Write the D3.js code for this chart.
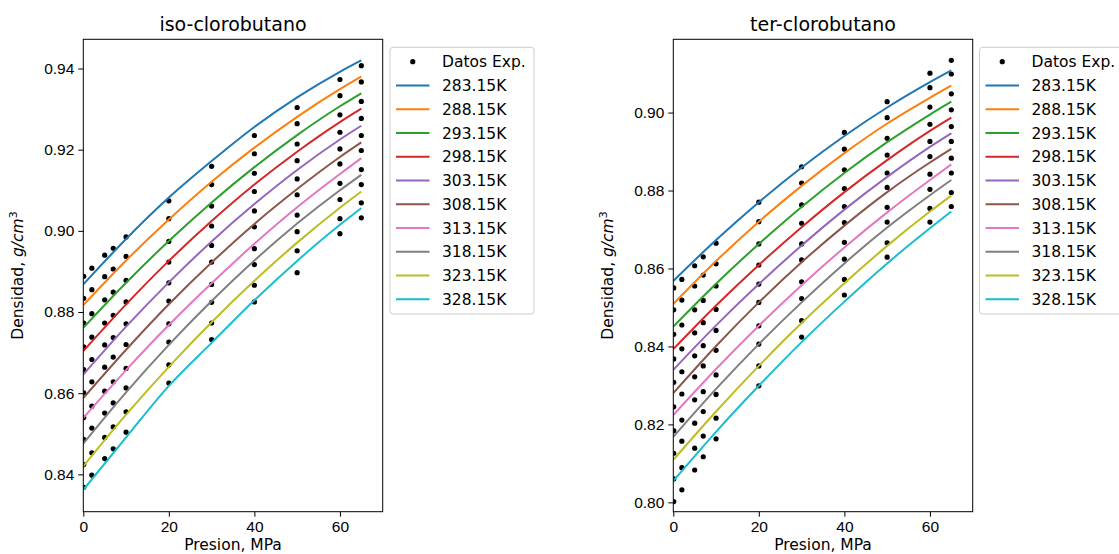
<!DOCTYPE html>
<html>
<head>
<meta charset="utf-8">
<script src="https://cdn.jsdelivr.net/npm/d3@7"></script>
<style>
  html, body { margin: 0; padding: 0; background: #fff; }
  svg { display: block; font-family: "DejaVu Sans", sans-serif; }
  .tick text { font-size: 15.5px; fill: #000; }
</style>
</head>
<body>
<svg id="chart" width="1119" height="554"></svg>
<script>
// Temperatures of each isotherm
const temperatures = ["283.15K", "288.15K", "293.15K", "298.15K", "303.15K",
                      "308.15K", "313.15K", "318.15K", "323.15K", "328.15K"];

// Pressures (MPa) of the measured points
const pressures = [0.1, 2, 5, 7, 10, 20, 30, 40, 50, 60, 65];
// Pressures (MPa) at which the model curves are tabulated
const curvePressures = [0, 10, 20, 30, 40, 50, 60, 65];

const xTicks = [0, 20, 40, 60];
const isoTicks = [0.84, 0.86, 0.88, 0.90, 0.92, 0.94];
const terTicks = [0.80, 0.82, 0.84, 0.86, 0.88, 0.90];

// iso-clorobutano: experimental densities (g/cm3), one row per temperature
const isoExp = [
  [0.8888, 0.8908, 0.8940, 0.8957, 0.8985, 0.9074, 0.9159, 0.9235, 0.9304, 0.9373, 0.9407],
  [0.8834, 0.8855, 0.8887, 0.8906, 0.8937, 0.9030, 0.9114, 0.9190, 0.9264, 0.9333, 0.9367],
  [0.8773, 0.8796, 0.8830, 0.8849, 0.8878, 0.8974, 0.9061, 0.9142, 0.9214, 0.9286, 0.9319],
  [0.8714, 0.8738, 0.8773, 0.8792, 0.8825, 0.8923, 0.9012, 0.9097, 0.9173, 0.9243, 0.9277],
  [0.8658, 0.8683, 0.8719, 0.8737, 0.8771, 0.8872, 0.8964, 0.9049, 0.9128, 0.9202, 0.9235],
  [0.8601, 0.8628, 0.8664, 0.8689, 0.8720, 0.8827, 0.8923, 0.9010, 0.9089, 0.9165, 0.9198],
  [0.8540, 0.8568, 0.8605, 0.8628, 0.8661, 0.8771, 0.8868, 0.8956, 0.9039, 0.9117, 0.9151],
  [0.8486, 0.8514, 0.8551, 0.8576, 0.8613, 0.8726, 0.8824, 0.8917, 0.8998, 0.9077, 0.9114],
  [0.8424, 0.8453, 0.8491, 0.8517, 0.8554, 0.8670, 0.8773, 0.8866, 0.8951, 0.9030, 0.9069],
  [0.8368, 0.8398, 0.8439, 0.8463, 0.8504, 0.8625, 0.8732, 0.8825, 0.8897, 0.8993, 0.9032]
];

// iso-clorobutano: model curves
const isoModel = [
  [0.8868, 0.8980, 0.9082, 0.9172, 0.9256, 0.9329, 0.9392, 0.9420],
  [0.8817, 0.8927, 0.9028, 0.9121, 0.9205, 0.9281, 0.9349, 0.9380],
  [0.8761, 0.8872, 0.8975, 0.9070, 0.9157, 0.9236, 0.9307, 0.9339],
  [0.8704, 0.8819, 0.8926, 0.9024, 0.9114, 0.9195, 0.9268, 0.9301],
  [0.8646, 0.8764, 0.8873, 0.8974, 0.9066, 0.9150, 0.9225, 0.9259],
  [0.8588, 0.8707, 0.8819, 0.8922, 0.9017, 0.9103, 0.9182, 0.9218],
  [0.8539, 0.8657, 0.8768, 0.8871, 0.8968, 0.9058, 0.9140, 0.9179],
  [0.8476, 0.8602, 0.8719, 0.8827, 0.8927, 0.9018, 0.9100, 0.9138],
  [0.8420, 0.8547, 0.8665, 0.8775, 0.8877, 0.8971, 0.9057, 0.9097],
  [0.8362, 0.8491, 0.8618, 0.8724, 0.8829, 0.8926, 0.9015, 0.9056]
];

// ter-clorobutano: experimental densities (g/cm3)
const terExp = [
  [0.8550, 0.8572, 0.8607, 0.8630, 0.8665, 0.8770, 0.8861, 0.8949, 0.9028, 0.9101, 0.9134],
  [0.8494, 0.8519, 0.8555, 0.8583, 0.8612, 0.8720, 0.8819, 0.8906, 0.8987, 0.9064, 0.9099],
  [0.8431, 0.8455, 0.8494, 0.8518, 0.8555, 0.8663, 0.8763, 0.8853, 0.8934, 0.9014, 0.9048],
  [0.8368, 0.8394, 0.8435, 0.8461, 0.8495, 0.8609, 0.8716, 0.8805, 0.8891, 0.8970, 0.9007],
  [0.8308, 0.8335, 0.8376, 0.8402, 0.8441, 0.8560, 0.8663, 0.8759, 0.8845, 0.8926, 0.8964],
  [0.8245, 0.8278, 0.8322, 0.8350, 0.8390, 0.8513, 0.8622, 0.8718, 0.8808, 0.8887, 0.8926],
  [0.8184, 0.8211, 0.8263, 0.8284, 0.8327, 0.8453, 0.8566, 0.8667, 0.8757, 0.8842, 0.8883],
  [0.8126, 0.8157, 0.8203, 0.8233, 0.8277, 0.8406, 0.8523, 0.8624, 0.8719, 0.8803, 0.8845],
  [0.8060, 0.8089, 0.8139, 0.8170, 0.8216, 0.8350, 0.8466, 0.8572, 0.8666, 0.8754, 0.8795],
  [0.8002, 0.8032, 0.8083, 0.8117, 0.8163, 0.8299, 0.8424, 0.8532, 0.8629, 0.8719, 0.8759]
];

// ter-clorobutano: model curves
const terModel = [
  [0.8568, 0.8673, 0.8770, 0.8859, 0.8940, 0.9013, 0.9078, 0.9108],
  [0.8509, 0.8619, 0.8720, 0.8812, 0.8896, 0.8972, 0.9038, 0.9069],
  [0.8451, 0.8561, 0.8663, 0.8758, 0.8845, 0.8924, 0.8995, 0.9028],
  [0.8393, 0.8505, 0.8609, 0.8706, 0.8796, 0.8878, 0.8953, 0.8987],
  [0.8340, 0.8454, 0.8560, 0.8659, 0.8751, 0.8835, 0.8912, 0.8947],
  [0.8280, 0.8401, 0.8513, 0.8616, 0.8710, 0.8796, 0.8872, 0.8907],
  [0.8224, 0.8342, 0.8453, 0.8557, 0.8654, 0.8744, 0.8827, 0.8867],
  [0.8168, 0.8291, 0.8406, 0.8513, 0.8613, 0.8705, 0.8788, 0.8827],
  [0.8109, 0.8233, 0.8350, 0.8460, 0.8562, 0.8658, 0.8746, 0.8787],
  [0.8055, 0.8181, 0.8299, 0.8411, 0.8515, 0.8613, 0.8703, 0.8746]
];

const colors = ["#1f77b4", "#ff7f0e", "#2ca02c", "#d62728", "#9467bd",
                "#8c564b", "#e377c2", "#7f7f7f", "#bcbd22", "#17becf"];

const svg = d3.select("#chart");
const FONT = 15.5;

function panel(opts) {
  const { left, right, top, bottom, yDomain, yTicks, title, exp, model, legendX } = opts;
  const x = d3.scaleLinear().domain([0, 70]).range([left, right]);
  const y = d3.scaleLinear().domain(yDomain).range([bottom, top]);
  const g = svg.append("g");

  const clipId = "clip" + Math.round(left);
  svg.append("clipPath").attr("id", clipId)
    .append("rect").attr("x", left).attr("y", top)
    .attr("width", right - left).attr("height", bottom - top);

  const plot = g.append("g").attr("clip-path", `url(#${clipId})`);

  // measured points
  exp.forEach(row => {
    plot.selectAll(null).data(row.map((v, i) => [pressures[i], v]))
      .enter().append("circle")
      .attr("cx", d => x(d[0])).attr("cy", d => y(d[1]))
      .attr("r", 2.6).attr("fill", "#000");
  });

  // model curves
  const line = d3.line().x(d => x(d[0])).y(d => y(d[1])).curve(d3.curveMonotoneX);
  model.forEach((row, k) => {
    plot.append("path")
      .datum(row.map((v, i) => [curvePressures[i], v]))
      .attr("d", line).attr("fill", "none")
      .attr("stroke", colors[k]).attr("stroke-width", 2);
  });

  // axes
  const xAxis = g.append("g").attr("transform", `translate(0,${bottom})`)
    .call(d3.axisBottom(x).tickValues(xTicks).tickSize(5).tickSizeOuter(0).tickPadding(4));
  const yAxis = g.append("g").attr("transform", `translate(${left},0)`)
    .call(d3.axisLeft(y).tickValues(yTicks).tickFormat(d3.format(".2f"))
      .tickSize(5).tickSizeOuter(0).tickPadding(4));
  [xAxis, yAxis].forEach(a => {
    a.select(".domain").remove();
    a.selectAll(".tick line").attr("stroke", "#000").attr("stroke-width", 1);
    a.selectAll(".tick text").style("font-size", FONT + "px").attr("fill", "#000");
  });

  // frame
  g.append("rect").attr("x", left).attr("y", top)
    .attr("width", right - left).attr("height", bottom - top)
    .attr("fill", "none").attr("stroke", "#000").attr("stroke-width", 1);

  // title
  g.append("text").attr("x", (left + right) / 2).attr("y", 31)
    .attr("text-anchor", "middle").style("font-size", "19px").attr("fill", "#000")
    .text(title);

  // x label
  g.append("text").attr("x", (left + right) / 2).attr("y", 549.5)
    .attr("text-anchor", "middle").style("font-size", FONT + "px").attr("fill", "#000")
    .text("Presion, MPa");

  // y label
  const yl = g.append("text")
    .attr("transform", `translate(${left - 60},${(top + bottom) / 2}) rotate(-90)`)
    .attr("text-anchor", "middle").style("font-size", FONT + "px").attr("fill", "#000");
  yl.append("tspan").text("Densidad, ");
  yl.append("tspan").style("font-style", "italic").text("g/cm");
  yl.append("tspan").attr("dy", -6).style("font-size", "11px").text("3");

  // legend
  const lg = g.append("g");
  const rowH = 23.76;
  const ly0 = 61.7;
  lg.append("rect").attr("x", legendX).attr("y", 47.3)
    .attr("width", 144).attr("height", 266.7).attr("rx", 3)
    .attr("fill", "#fff").attr("fill-opacity", 0.8)
    .attr("stroke", "#cccccc").attr("stroke-width", 1);
  const hx0 = legendX + 6, hx1 = legendX + 39.5, tx = legendX + 52;
  lg.append("circle").attr("cx", (hx0 + hx1) / 2).attr("cy", ly0).attr("r", 2.6).attr("fill", "#000");
  lg.append("text").attr("x", tx).attr("y", ly0).attr("dy", "0.36em")
    .style("font-size", FONT + "px").attr("fill", "#000").text("Datos Exp.");
  temperatures.forEach((t, k) => {
    const cy = ly0 + rowH * (k + 1);
    lg.append("line").attr("x1", hx0).attr("x2", hx1).attr("y1", cy).attr("y2", cy)
      .attr("stroke", colors[k]).attr("stroke-width", 2);
    lg.append("text").attr("x", tx).attr("y", cy).attr("dy", "0.36em")
      .style("font-size", FONT + "px").attr("fill", "#000").text(t);
  });
}

panel({
  left: 83.3, right: 382.7, top: 39.3, bottom: 511.7,
  yDomain: [0.8308, 0.9472], yTicks: isoTicks,
  title: "iso-clorobutano", exp: isoExp, model: isoModel, legendX: 390
});

panel({
  left: 673.3, right: 972.7, top: 39.3, bottom: 511.7,
  yDomain: [0.7976, 0.9188], yTicks: terTicks,
  title: "ter-clorobutano", exp: terExp, model: terModel, legendX: 979.5
});
</script>
</body>
</html>
